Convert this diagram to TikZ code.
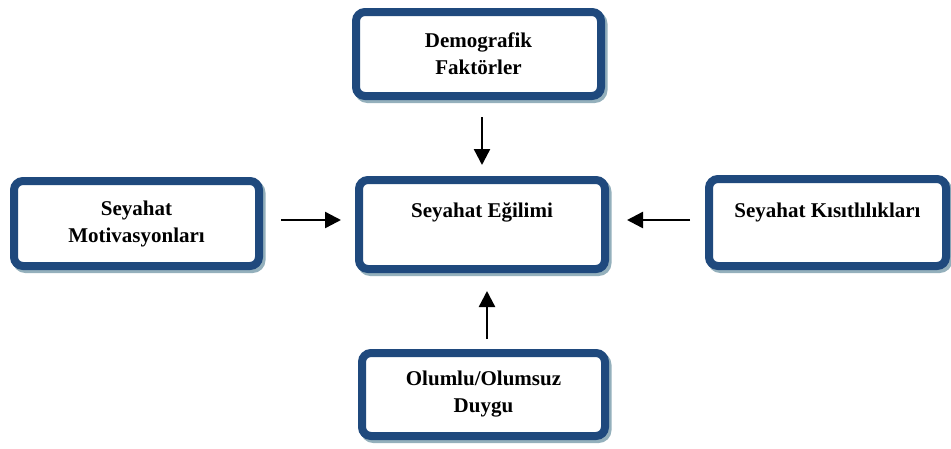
\documentclass[tikz,border=0pt]{standalone}
\usepackage{fontspec}
\setmainfont{Liberation Serif}
\usetikzlibrary{arrows.meta,calc}
\definecolor{boxblue}{RGB}{31,73,125}
\definecolor{shadowc}{RGB}{148,176,188}
\tikzset{
  box/.style={draw=boxblue, line width=8pt, fill=white, rounded corners=9pt,
    inner sep=0pt, align=center,
    font={\fontsize{21}{27}\selectfont\bfseries},
    preaction={draw=shadowc, line width=8pt,
      transform canvas={shift={(2.5pt,-3pt)}}}},
  lbl/.style={inner sep=0pt, font={\fontsize{21}{27}\selectfont\bfseries}},
  arr/.style={line width=2.4pt, -{Triangle[width=16pt,length=16pt]}}
}
\begin{document}
\begin{tikzpicture}[x=1pt,y=-1pt]
\path[use as bounding box, fill=white] (0,0) rectangle (951,448);
% boxes
\node[box, minimum width=245pt, minimum height=84pt] (top) at (478.5,54) {Demografik\\Faktörler};
\node[box, minimum width=245pt, minimum height=85pt] (left) at (136.5,223.5) {Seyahat\\Motivasyonları};
\node[box, minimum width=246pt, minimum height=89pt] (cen) at (482,224.5) {};
\node[box, minimum width=237pt, minimum height=87pt] (right) at (827.5,222.5) {};
\node[box, minimum width=243pt, minimum height=83pt] (bot) at (483.5,394.5) {Olumlu/Olumsuz\\Duygu};
% top-aligned texts
\node[lbl, anchor=base] (centext) at (cen.center |- 0,217) {Seyahat Eğilimi};
\node[lbl, anchor=base] (righttext) at (right.center |- 0,217) {Seyahat Kısıtlılıkları};
% arrow guide coordinates
\coordinate (ay) at (0,220);
\coordinate (bx) at (487,0);
% arrows
\draw[arr, shorten <=17pt, shorten >=11pt] (cen.north |- top.south) -- (cen.north);
\draw[arr, shorten <=18pt, shorten >=14pt] (left.east |- ay) -- (cen.west |- ay);
\draw[arr, shorten <=15pt, shorten >=18pt] (right.west |- ay) -- (cen.east |- ay);
\draw[arr, shorten <=10pt, shorten >=18pt] (bx |- bot.north) -- (bx |- cen.south);
\end{tikzpicture}
\end{document}
